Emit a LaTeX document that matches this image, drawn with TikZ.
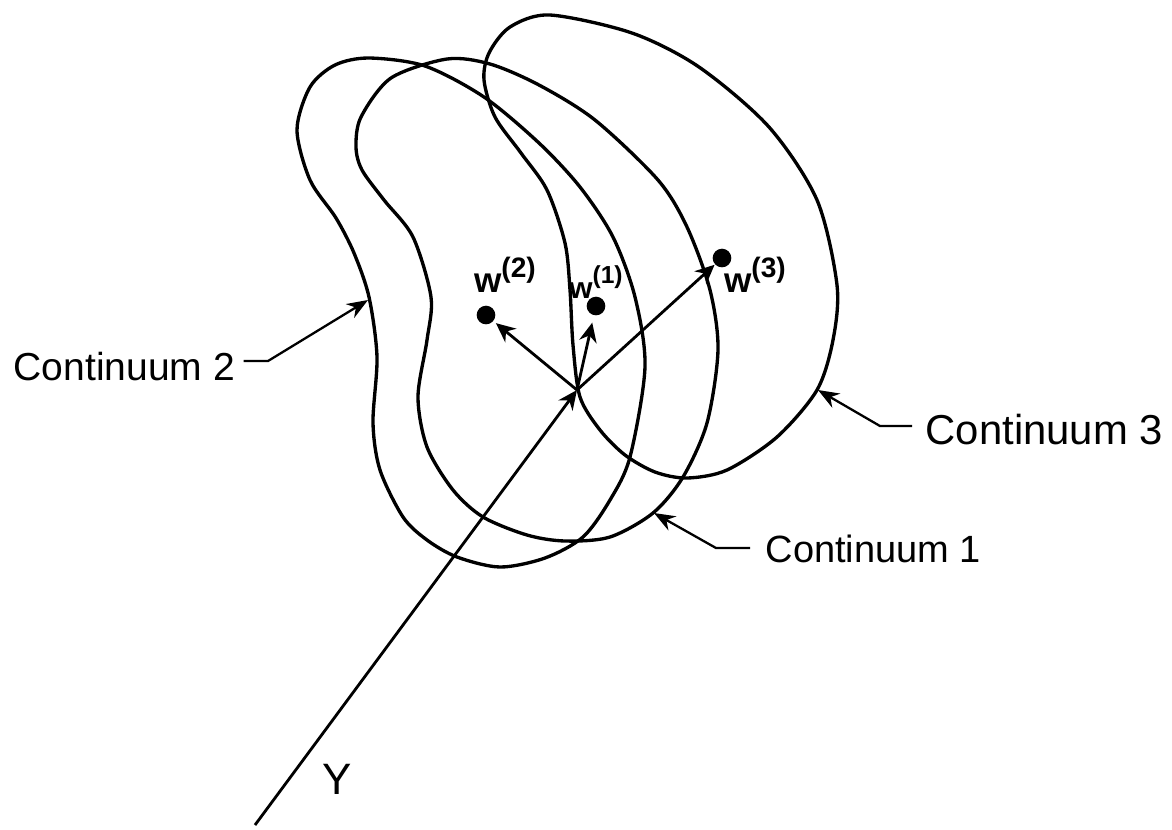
\documentclass[tikz,border=0pt]{standalone}
\usepackage{fontspec}
\setmainfont{Liberation Sans}
\usetikzlibrary{arrows.meta, positioning}
\newcommand{\wsup}[2][8]{w\raisebox{4.2pt}{\fontsize{#1}{9}\selectfont(#2)}}

\begin{document}
\begin{tikzpicture}[
  x=0.01cm, y=-0.01cm,
  outline/.style={line width=0.95pt, black},
  vector/.style={line width=0.8pt, -{Stealth[length=5.5pt, width=5pt]}},
  leader/.style={line width=0.65pt, -{Stealth[length=6pt, width=4.6pt]}},
  contlabel/.style={inner sep=0pt},
  wlabel/.style={font=\fontsize{10}{12}\selectfont\bfseries, inner sep=0pt},
  wdot/.style={circle, fill=black, inner sep=0pt, minimum size=5.3pt}
  ]
  \useasboundingbox (0, 0) rectangle (1172, 829);

  %% Continuum outlines
  % Continuum 2
  \draw[outline] plot[smooth cycle, tension=0.5] coordinates {
    (369,58) (425,66) (484,97) (539,143) (580,187) (613,237) (635,297)
    (645,367) (630,457) (610,500) (583,537) (545,558) (500,567)
    (457,557) (427,540) (403,517) (380,470) (373,423) (377,357) (369,297)
    (354,253) (336,218) (310,180) (297,130) (310,87) (335,65)};
  % Continuum 1
  \draw[outline] plot[smooth cycle, tension=0.5] coordinates {
    (447,59) (490,64) (539,85) (595,120) (658,180) (687,227) (710,290)
    (718,350) (707,423) (683,477) (653,513) (610,537) (565,541) (527,535)
    (483,517) (453,490) (427,447) (418,397) (427,340) (431,297) (413,237)
    (384,200) (362,170) (356,147) (361,117) (391,78)};
  % Continuum 3
  \draw[outline] plot[smooth cycle, tension=0.5] coordinates {
    (550,15) (632,33) (699,67) (769,127) (817,200) (837,285) (833,340)
    (817,390) (777,437) (727,470) (687,478) (655,472) (625,455) (600,430)
    (580,397) (573,345) (570,290) (565,243) (547,190) (521,153) (495,117)
    (484,80) (489,53) (510,27)};

  %% Vectors from the common point
  \node[wdot] (w1) at (596, 306) {};
  \node[wdot] (w2) at (486, 315) {};
  \node[wdot] (w3) at (722, 258) {};
  \coordinate (o) at (577, 390);
  \coordinate (yend) at (255, 825);

  \draw[vector, shorten >=0.8pt] (o) -- (w2);
  \draw[vector, shorten >=2pt] (o) -- (w1);
  \draw[vector] (o) -- (w3);
  \draw[vector] (yend) -- (o);

  \node[wlabel] (lw2) at (505, 275) {\wsup{2}};
  \node[wlabel, font=\fontsize{8.5}{10}\selectfont\bfseries] (lw1) at (596, 282) {\wsup[7]{1}};
  \node[wlabel] (lw3) at (755, 275) {\wsup{3}};
  \node[font=\fontsize{12.5}{14}\selectfont, inner sep=0pt] (ylab) at (337, 779) {Y};

  %% Labels with leaders
  \node[contlabel, font=\fontsize{11.1}{14}\selectfont, anchor=west] (c2) at (13, 367) {Continuum 2};
  \node[contlabel, font=\fontsize{11.9}{14}\selectfont, anchor=west] (c3) at (925, 430) {Continuum 3};
  \node[contlabel, font=\fontsize{10.8}{14}\selectfont, anchor=west] (c1) at (765, 549) {Continuum 1};

  \coordinate (t2) at (368, 300);
  \coordinate (t3) at (818, 390);
  \coordinate (t1) at (654, 513);

  \draw[leader] (c2.east) ++(8, -6) -- (268, 361) -- (t2);
  \draw[leader] (c3.west) ++(-13, -4) -- (880, 426) -- (t3);
  \draw[leader] (c1.west) ++(-15, -1) -- (716, 548) -- (t1);
\end{tikzpicture}
\end{document}
